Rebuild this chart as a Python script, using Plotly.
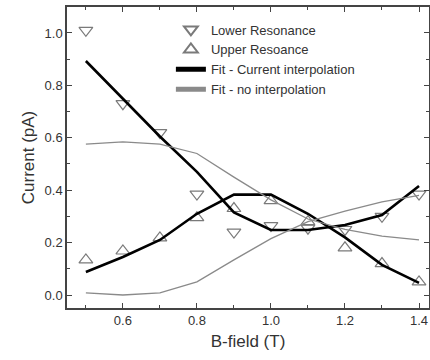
import plotly.graph_objects as go

b_field = [0.5, 0.6, 0.7, 0.8, 0.9, 1.0, 1.1, 1.2, 1.3, 1.4]
lower_res = [1.01, 0.73, 0.62, 0.385, 0.24, 0.265, 0.255, 0.25, 0.30, 0.385]
upper_res = [0.134, 0.168, 0.218, 0.295, 0.33, 0.36, 0.28, 0.18, 0.12, 0.05]

fit_interp_a = [0.893, 0.75, 0.605, 0.47, 0.315, 0.248, 0.248, 0.267, 0.305, 0.416]
fit_interp_b = [0.088, 0.145, 0.21, 0.31, 0.383, 0.383, 0.31, 0.22, 0.115, 0.046]

fit_noint_a = [0.576, 0.584, 0.576, 0.54, 0.45, 0.363, 0.29, 0.25, 0.225, 0.21]
fit_noint_b = [0.008, 0.0, 0.008, 0.05, 0.134, 0.215, 0.28, 0.32, 0.355, 0.38]

FONT = "Liberation Sans, Arial, sans-serif"
TXT = "#333333"
AX = "#444444"
GRAY = "#8a8a8a"
MK = "#7a7a7a"

fig = go.Figure()
fig.add_trace(go.Scatter(x=b_field, y=lower_res, mode="markers", name="Lower Resonance",
                         marker=dict(symbol="triangle-down-open", size=12, color=MK, line=dict(width=1.2))))
fig.add_trace(go.Scatter(x=b_field, y=upper_res, mode="markers", name="Upper Resoance",
                         marker=dict(symbol="triangle-up-open", size=12, color=MK, line=dict(width=1.2))))
fig.add_trace(go.Scatter(x=b_field, y=fit_interp_a, mode="lines", name="Fit - Current interpolation",
                         line=dict(color="black", width=2.6), legendgroup="fi"))
fig.add_trace(go.Scatter(x=b_field, y=fit_interp_b, mode="lines", name="Fit - Current interpolation",
                         line=dict(color="black", width=2.6), legendgroup="fi", showlegend=False))
fig.add_trace(go.Scatter(x=b_field, y=fit_noint_a, mode="lines", name="Fit - no interpolation",
                         line=dict(color=GRAY, width=1.3), legendgroup="fn"))
fig.add_trace(go.Scatter(x=b_field, y=fit_noint_b, mode="lines", name="Fit - no interpolation",
                         line=dict(color=GRAY, width=1.3), legendgroup="fn", showlegend=False))

axis_common = dict(showline=True, linecolor=AX, linewidth=1.5, mirror="allticks",
                   ticks="inside", ticklen=5, tickwidth=1.2, tickcolor=AX,
                   showgrid=False, zeroline=False, automargin=False,
                   tickfont=dict(family=FONT, size=13, color=TXT))

fig.update_xaxes(range=[0.449, 1.427], tick0=0.2, dtick=0.2, tickformat=".1f",
                 minor=dict(ticks="inside", dtick=0.1, tick0=0.1, ticklen=3, tickcolor=AX),
                 title=dict(text="B-field (T)", font=dict(family=FONT, size=17, color=TXT), standoff=8),
                 **axis_common)
fig.update_yaxes(range=[-0.0496, 1.099], tick0=0, dtick=0.2, tickformat=".1f",
                 minor=dict(ticks="inside", dtick=0.1, tick0=0.1, ticklen=3, tickcolor=AX),
                 title=dict(text="Current (pA)", font=dict(family=FONT, size=17, color=TXT), standoff=6),
                 **axis_common)

fig.update_layout(
    width=430, height=360,
    margin=dict(l=67, r=1, t=7, b=52),
    plot_bgcolor="white", paper_bgcolor="white",
    font=dict(family=FONT, color=TXT),
    legend=dict(x=0.287, y=0.975, xanchor="left", yanchor="top",
                bgcolor="rgba(0,0,0,0)", font=dict(family=FONT, size=13, color=TXT),
                tracegroupgap=0, itemsizing="constant"),
)

# remove the default page margin so the 430x360 figure fills the window exactly
fig.write_html("out.html",
               config={"displayModeBar": False},
               post_script="document.body.style.margin='0';document.body.style.overflow='hidden';")
